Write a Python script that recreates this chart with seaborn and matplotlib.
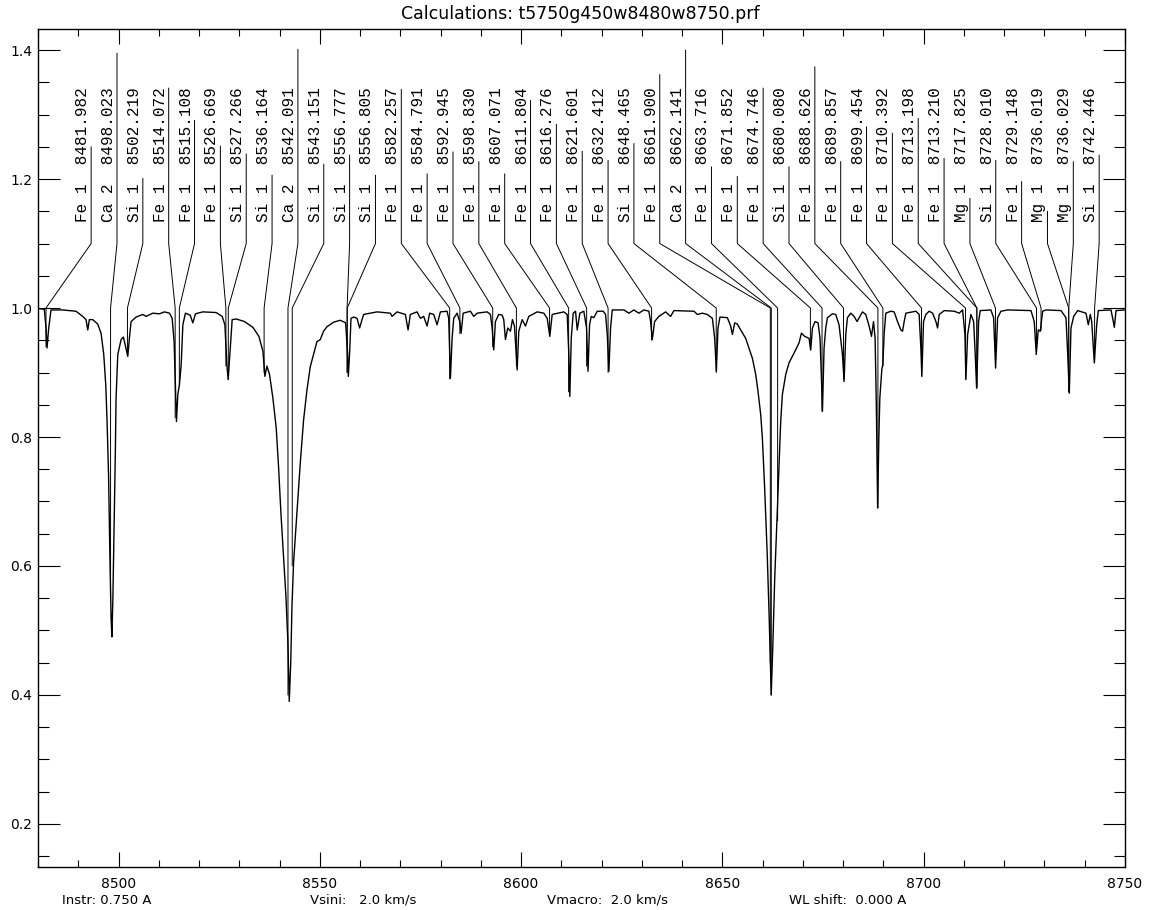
import numpy as np
import pandas as pd
import matplotlib
matplotlib.use("Agg")
import matplotlib.pyplot as plt
from matplotlib.ticker import MultipleLocator
import seaborn as sns

sns.set_theme(style="ticks")
plt.rcParams['font.family'] = ['DejaVu Sans']
plt.rcParams['text.color'] = 'black'

title = "Calculations: t5750g450w8480w8750.prf"

# identified lines
line_species = ['Fe 1', 'Ca 2', 'Si 1', 'Fe 1', 'Fe 1', 'Fe 1', 'Si 1', 'Si 1', 'Ca 2', 'Si 1',
                'Si 1', 'Si 1', 'Fe 1', 'Fe 1', 'Fe 1', 'Fe 1', 'Fe 1', 'Fe 1', 'Fe 1', 'Fe 1',
                'Fe 1', 'Si 1', 'Fe 1', 'Ca 2', 'Fe 1', 'Fe 1', 'Fe 1', 'Si 1', 'Fe 1', 'Fe 1',
                'Fe 1', 'Fe 1', 'Fe 1', 'Fe 1', 'Mg 1', 'Si 1', 'Fe 1', 'Mg 1', 'Mg 1', 'Si 1']
line_wl = [8481.982, 8498.023, 8502.219, 8514.072, 8515.108, 8526.669, 8527.266, 8536.164,
           8542.091, 8543.151, 8556.777, 8556.805, 8582.257, 8584.791, 8592.945, 8598.830,
           8607.071, 8611.804, 8616.276, 8621.601, 8632.412, 8648.465, 8661.900, 8662.141,
           8663.716, 8671.852, 8674.746, 8680.080, 8688.626, 8689.857, 8699.454, 8710.392,
           8713.198, 8713.210, 8717.825, 8728.010, 8729.148, 8736.019, 8736.029, 8742.446]
# height of the marker stroke above the label base
line_top = [1.250, 1.395, 1.201, 1.341, 1.291, 1.251, 1.239, 1.206, 1.401, 1.223,
            1.237, 1.206, 1.339, 1.208, 1.242, 1.227, 1.208, 1.322, 1.285, 1.243,
            1.229, 1.255, 1.362, 1.400, 1.219, 1.204, 1.341, 1.219, 1.374, 1.227,
            1.281, 1.271, 1.294, 1.232, 1.170, 1.229, 1.196, 1.150, 1.227, 1.237]
# flux where the marker ends
line_flux = [0.94, 0.55, 0.93, 0.83, 0.88, 0.91, 0.89, 0.90, 0.40, 0.60,
             0.90, 0.90, 0.89, 0.96, 0.94, 0.91, 0.96, 0.87, 0.91, 0.90,
             0.95, 0.90, 0.45, 0.40, 0.67, 0.935, 0.84, 0.89, 0.69, 0.91,
             0.895, 0.89, 0.876, 0.876, 0.907, 0.93, 0.965, 0.87, 0.87, 0.915]

# synthetic spectrum
spec_wl = [8480.00, 8480.32, 8481.57, 8481.99, 8482.24, 8482.66, 8483.23, 8486.14, 8489.45, 8491.11,
           8491.93, 8492.36, 8492.76, 8493.60, 8494.84, 8495.66, 8496.33, 8496.83, 8497.16, 8497.53,
           8497.90, 8498.15, 8498.35, 8498.60, 8498.90, 8499.22, 8499.39, 8499.82, 8500.64, 8501.21,
           8501.71, 8502.30, 8502.70, 8503.12, 8504.37, 8506.03, 8506.85, 8508.51, 8510.16, 8511.40,
           8512.65, 8513.32, 8513.81, 8514.14, 8514.39, 8514.73, 8515.13, 8515.56, 8515.98, 8516.62,
           8517.79, 8518.46, 8519.11, 8520.95, 8524.26, 8525.75, 8526.42, 8526.91, 8527.24, 8527.66,
           8528.23, 8529.23, 8531.29, 8533.38, 8534.87, 8535.87, 8536.36, 8536.86, 8537.51, 8538.35,
           8539.17, 8539.75, 8540.34, 8540.99, 8541.59, 8542.08, 8542.41, 8542.78, 8543.08, 8543.48,
           8544.32, 8545.14, 8545.96, 8546.81, 8547.63, 8548.45, 8549.29, 8550.11, 8550.93, 8551.78,
           8553.42, 8555.09, 8556.41, 8556.90, 8557.08, 8557.40, 8557.75, 8558.40, 8559.24, 8559.89,
           8560.48, 8560.88, 8564.21, 8567.52, 8567.94, 8569.18, 8571.25, 8571.92, 8572.49, 8574.16,
           8574.98, 8575.80, 8576.64, 8577.29, 8578.29, 8579.13, 8579.95, 8581.61, 8582.01, 8582.44,
           8582.86, 8583.26, 8584.10, 8584.75, 8585.10, 8585.60, 8587.41, 8588.23, 8589.08, 8591.56,
           8592.38, 8592.80, 8593.20, 8593.62, 8594.44, 8595.29, 8595.69, 8596.11, 8596.68, 8597.35,
           8597.85, 8598.35, 8599.02, 8599.42, 8600.26, 8601.08, 8601.90, 8603.99, 8605.64, 8606.48,
           8607.13, 8607.72, 8610.61, 8611.45, 8611.85, 8612.10, 8612.45, 8612.94, 8613.52, 8613.94,
           8614.59, 8615.58, 8616.25, 8616.62, 8617.00, 8617.42, 8618.07, 8618.91, 8620.40, 8620.97,
           8621.40, 8621.80, 8622.22, 8622.64, 8625.53, 8626.77, 8628.01, 8629.25, 8630.50, 8631.74,
           8632.16, 8632.58, 8633.16, 8634.22, 8635.89, 8637.13, 8637.96, 8642.93, 8643.78, 8645.02,
           8646.26, 8647.51, 8648.08, 8648.50, 8648.90, 8649.39, 8651.23, 8652.05, 8652.48, 8653.05,
           8653.72, 8654.54, 8655.78, 8656.60, 8657.45, 8658.27, 8658.84, 8659.51, 8659.93, 8660.50,
           8661.12, 8661.62, 8662.12, 8662.49, 8662.99, 8663.61, 8664.23, 8664.48, 8664.90, 8665.73,
           8666.55, 8667.79, 8669.04, 8669.63, 8670.45, 8671.52, 8671.94, 8672.36, 8673.01, 8673.76,
           8674.25, 8674.60, 8674.85, 8675.25, 8675.67, 8676.09, 8677.33, 8678.15, 8678.97, 8679.82,
           8680.22, 8680.64, 8681.06, 8681.88, 8682.70, 8683.45, 8684.79, 8685.61, 8686.44, 8687.03,
           8687.53, 8687.93, 8688.23, 8688.56, 8688.86, 8689.10, 8689.60, 8689.85, 8690.17, 8690.59,
           8691.84, 8692.66, 8693.50, 8694.33, 8694.75, 8695.15, 8695.57, 8698.06, 8698.87, 8699.29,
           8699.54, 8699.96, 8700.53, 8701.36, 8702.21, 8703.03, 8703.45, 8703.85, 8705.09, 8707.58,
           8708.82, 8709.66, 8710.24, 8710.48, 8710.91, 8711.73, 8712.40, 8712.80, 8713.14, 8713.64,
           8714.04, 8716.69, 8717.36, 8717.86, 8718.36, 8719.18, 8720.85, 8726.64, 8727.46, 8727.96,
           8728.45, 8728.95, 8729.55, 8730.37, 8734.10, 8735.34, 8735.77, 8736.16, 8736.58, 8737.25,
           8738.24, 8740.31, 8740.88, 8741.38, 8741.73, 8742.38, 8742.97, 8743.37, 8746.52, 8747.10,
           8747.35, 8747.77, 8749.85, 8750.00]
spec_flux = [0.999, 0.999, 0.998, 0.969, 0.938, 0.969, 0.997, 0.997, 0.995, 0.987,
             0.982, 0.966, 0.982, 0.982, 0.975, 0.961, 0.928, 0.881, 0.824, 0.740,
             0.600, 0.520, 0.490, 0.550, 0.660, 0.780, 0.860, 0.928, 0.951, 0.955,
             0.941, 0.925, 0.953, 0.979, 0.986, 0.990, 0.987, 0.992, 0.991, 0.994,
             0.992, 0.984, 0.948, 0.876, 0.824, 0.866, 0.881, 0.912, 0.974, 0.992,
             0.989, 0.977, 0.991, 0.994, 0.993, 0.987, 0.974, 0.912, 0.889, 0.928,
             0.982, 0.983, 0.979, 0.970, 0.956, 0.933, 0.894, 0.910, 0.897, 0.860,
             0.814, 0.754, 0.682, 0.614, 0.552, 0.480, 0.390, 0.450, 0.537, 0.605,
             0.682, 0.759, 0.826, 0.873, 0.909, 0.928, 0.948, 0.951, 0.964, 0.971,
             0.978, 0.981, 0.977, 0.930, 0.894, 0.930, 0.984, 0.986, 0.984, 0.969,
             0.982, 0.990, 0.994, 0.992, 0.987, 0.994, 0.990, 0.966, 0.990, 0.994,
             0.984, 0.987, 0.972, 0.992, 0.990, 0.974, 0.994, 0.995, 0.984, 0.891,
             0.953, 0.984, 0.992, 0.979, 0.961, 0.992, 0.995, 0.987, 0.992, 0.994,
             0.990, 0.969, 0.935, 0.979, 0.990, 0.989, 0.982, 0.951, 0.969, 0.964,
             0.982, 0.972, 0.904, 0.964, 0.982, 0.972, 0.987, 0.994, 0.992, 0.984,
             0.956, 0.990, 0.994, 0.990, 0.928, 0.863, 0.953, 0.992, 0.995, 0.966,
             0.992, 0.995, 0.969, 0.902, 0.974, 0.987, 0.985, 0.995, 0.995, 0.990,
             0.959, 0.902, 0.969, 0.997, 0.997, 0.992, 0.997, 0.992, 0.997, 0.995,
             0.979, 0.951, 0.979, 0.987, 0.994, 0.987, 0.996, 0.995, 0.990, 0.992,
             0.990, 0.984, 0.953, 0.902, 0.969, 0.986, 0.985, 0.972, 0.959, 0.977,
             0.975, 0.966, 0.953, 0.938, 0.922, 0.897, 0.871, 0.835, 0.798, 0.720,
             0.620, 0.520, 0.400, 0.470, 0.580, 0.680, 0.783, 0.824, 0.866, 0.897,
             0.915, 0.930, 0.946, 0.961, 0.956, 0.953, 0.935, 0.969, 0.979, 0.977,
             0.953, 0.891, 0.840, 0.938, 0.969, 0.985, 0.991, 0.990, 0.974, 0.928,
             0.886, 0.959, 0.985, 0.992, 0.987, 0.979, 0.994, 0.990, 0.972, 0.956,
             0.979, 0.953, 0.850, 0.690, 0.800, 0.860, 0.905, 0.912, 0.960, 0.992,
             0.995, 0.994, 0.979, 0.966, 0.964, 0.979, 0.992, 0.995, 0.990, 0.938,
             0.894, 0.979, 0.990, 0.995, 0.992, 0.979, 0.969, 0.990, 0.996, 0.995,
             0.992, 0.997, 0.959, 0.889, 0.959, 0.990, 0.979, 0.928, 0.876, 0.979,
             0.996, 0.997, 0.985, 0.907, 0.985, 0.995, 0.997, 0.996, 0.979, 0.928,
             0.966, 0.964, 0.995, 0.997, 0.996, 0.985, 0.928, 0.868, 0.969, 0.987,
             0.996, 0.992, 0.974, 0.990, 0.979, 0.915, 0.974, 0.996, 0.997, 0.979,
             0.970, 0.996, 0.997, 0.997]

footer = ["Instr: 0.750 A", "Vsini:   2.0 km/s", "Vmacro:  2.0 km/s", "WL shift:  0.000 A"]

spec = pd.DataFrame({'wl': spec_wl, 'flux': spec_flux})

fig = plt.figure(figsize=(11.55, 9.1), dpi=100)
ax = fig.add_axes([38 / 1155, 43 / 910, 1087 / 1155, 838 / 910])

sns.lineplot(data=spec, x='wl', y='flux', color='black', linewidth=1.0,
             estimator=None, sort=False, ax=ax)

# line markers: labels spread evenly along the top
label_x = 8493.2 + 6.42 * np.arange(len(line_wl))
for lx, sp, wl, top, fl in zip(label_x, line_species, line_wl, line_top, line_flux):
    ax.plot([lx, lx, wl, wl], [top, 1.1, 1.0, fl], color='black', linewidth=0.7)
    ax.text(lx - 0.25, 1.133, f"{sp}  {wl:.3f}", rotation=90, ha='right', va='bottom',
            family='Liberation Mono', fontsize=11.5, color='black')

ax.set_xlim(8480, 8750)
ax.set_ylim(0.1333, 1.4326)
ax.set_xlabel('')
ax.set_ylabel('')
ax.xaxis.set_major_locator(MultipleLocator(50))
ax.xaxis.set_minor_locator(MultipleLocator(10))
ax.yaxis.set_major_locator(MultipleLocator(0.2))
ax.yaxis.set_minor_locator(MultipleLocator(0.05))
ax.yaxis.set_major_formatter(plt.FuncFormatter(lambda v, p: f"{v:.1f}"))
ax.tick_params(which='both', direction='in', top=True, right=True, colors='black',
               width=0.8, labelsize=10)
ax.tick_params(axis='x', which='major', length=10.8, pad=7)
ax.tick_params(axis='x', which='minor', length=5.2)
ax.tick_params(axis='y', which='major', length=16, pad=4)
ax.tick_params(axis='y', which='minor', length=8)
for s in ax.spines.values():
    s.set_color('black')
    s.set_linewidth(1.0)

fig.text(0.5026, 0.9846, title, ha='center', va='center', fontsize=12.5)
for fx, txt in zip([0.054, 0.268, 0.474, 0.683], footer):
    fig.text(fx, 0.0105, txt, ha='left', va='center', fontsize=9.5)

fig.savefig('out.png', dpi=100, facecolor='white')
